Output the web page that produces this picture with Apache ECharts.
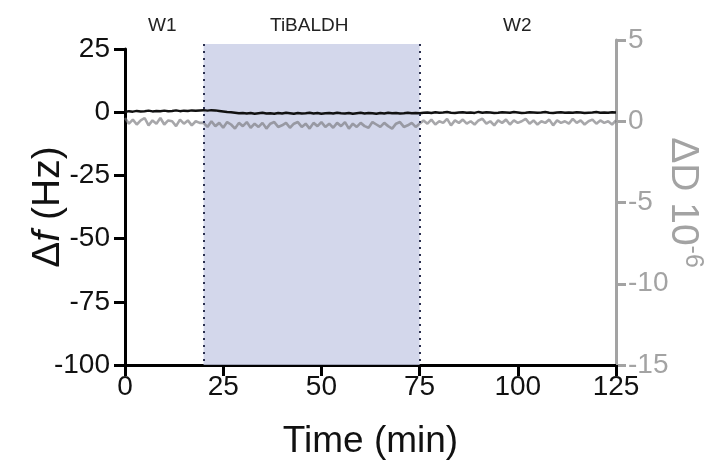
<!DOCTYPE html>
<html>
<head>
<meta charset="utf-8">
<script src="https://cdn.jsdelivr.net/npm/echarts@6/dist/echarts.min.js"></script>
<style>html,body{margin:0;padding:0;background:#fff;overflow:hidden}#c{width:723px;height:468px}</style>
</head>
<body>
<div id="c"></div>
<script>
// ---- data ----
var times = [0,1,2,3,4,5,6,7,8,9,10,11,12,13,14,15,16,17,18,19,
20,21,22,23,24,25,26,27,28,29,30,31,32,33,34,35,36,37,38,39,
40,41,42,43,44,45,46,47,48,49,50,51,52,53,54,55,56,57,58,59,
60,61,62,63,64,65,66,67,68,69,70,71,72,73,74,75,76,77,78,79,
80,81,82,83,84,85,86,87,88,89,90,91,92,93,94,95,96,97,98,99,
100,101,102,103,104,105,106,107,108,109,110,111,112,113,114,115,116,117,118,119,
120,121,122,123,124,125];
// frequency shift (Hz)
var deltaF = [0.1,0.4,0.2,0.5,0.3,0.4,0.6,0.3,0.5,0.4,0.6,0.4,0.5,0.7,0.4,0.6,0.5,0.7,0.6,0.7,
0.8,0.6,0.8,0.7,0.5,0.3,0.1,0.0,-0.2,-0.4,-0.3,-0.5,-0.3,-0.6,-0.4,-0.2,-0.5,-0.4,-0.6,-0.3,
-0.5,-0.2,-0.4,-0.6,-0.3,-0.5,-0.4,-0.2,-0.5,-0.3,-0.6,-0.4,-0.3,-0.5,-0.2,-0.4,-0.5,-0.3,-0.6,-0.4,
-0.2,-0.5,-0.3,-0.4,-0.6,-0.3,-0.5,-0.2,-0.4,-0.3,-0.5,-0.4,-0.2,-0.4,-0.3,-0.4,-0.2,-0.1,-0.3,0.0,
-0.2,-0.1,0.1,-0.2,-0.3,-0.1,0.0,-0.2,-0.1,-0.3,0.1,-0.2,0.0,-0.1,-0.3,-0.2,0.0,-0.1,-0.2,0.1,
-0.1,-0.3,-0.2,0.0,-0.1,-0.2,-0.1,0.1,-0.2,-0.3,-0.1,0.0,-0.2,-0.1,-0.2,0.0,-0.1,-0.3,-0.2,-0.1,
0.1,-0.2,-0.1,-0.2,0.0,-0.1];
// dissipation shift (1e-6)
var deltaD = [0.2,-0.15,0.1,-0.2,0.05,0.2,-0.25,0.05,-0.15,0.2,-0.2,0.05,0.0,-0.3,0.1,-0.15,0.05,-0.25,0.0,-0.1,
-0.1,-0.35,0.0,-0.3,-0.1,-0.4,-0.05,-0.2,-0.45,-0.1,-0.3,-0.05,-0.4,-0.15,-0.35,-0.1,-0.45,-0.15,-0.05,-0.35,
-0.25,-0.1,-0.4,-0.15,-0.05,-0.35,-0.15,-0.45,-0.1,-0.3,-0.05,-0.35,-0.15,-0.4,-0.1,-0.3,-0.05,-0.45,-0.15,-0.35,
-0.1,-0.3,-0.4,-0.05,-0.2,-0.35,-0.1,-0.3,-0.45,-0.15,-0.05,-0.35,-0.25,-0.1,-0.35,-0.15,0.05,-0.15,0.1,-0.2,
0.0,-0.1,0.15,-0.25,0.05,-0.1,0.1,-0.15,0.0,-0.2,0.05,0.15,-0.15,0.0,-0.25,0.05,-0.1,0.1,-0.2,0.05,
-0.1,0.0,0.15,-0.15,0.05,-0.2,0.0,-0.1,0.1,-0.25,0.05,-0.1,0.0,-0.15,0.15,-0.1,0.05,-0.2,0.0,0.1,
-0.15,0.05,-0.1,0.0,-0.2,0.05];
var phaseBounds = [20, 75];
var phaseLabels = ['W1', 'TiBALDH', 'W2'];
var xTicks = {min: 0, max: 125, interval: 25};
var fTicks = {min: -100, max: 25, interval: 25};
var dTicks = {min: -15, max: 5, interval: 5};

var F = '"Liberation Sans", Arial, Helvetica, sans-serif';
var GRAY = '#a3a3a3';

var fPairs = times.map(function (t, i) { return [t, deltaF[i]]; });
var dPairs = times.map(function (t, i) { return [t, deltaD[i]]; });

var chart = echarts.init(document.getElementById('c'), null, {renderer: 'canvas', width: 723, height: 468});
chart.setOption({
  animation: false,
  backgroundColor: '#fff',
  grid: [
    {left: 125, right: 107, top: 49, bottom: 103},
    {left: 125, right: 107, top: 40, bottom: 103}
  ],
  graphic: [
    {type: 'text', left: 163 - 15, top: 16, style: {text: phaseLabels[0], font: '19px ' + F, fill: '#222'}},
    {type: 'text', left: 311 - 41, top: 16, style: {text: phaseLabels[1], font: '19px ' + F, fill: '#222'}},
    {type: 'text', left: 518 - 15, top: 16, style: {text: phaseLabels[2], font: '19px ' + F, fill: '#222'}}
  ],
  xAxis: [
    {
      gridIndex: 0, type: 'value', min: xTicks.min, max: xTicks.max, interval: xTicks.interval,
      name: 'Time (min)', nameLocation: 'middle', nameGap: 58, nameMoveOverlap: false,
      nameTextStyle: {fontFamily: F, fontSize: 37, color: '#111'},
      axisLine: {onZero: false, lineStyle: {color: '#000', width: 3}},
      axisTick: {length: 11, lineStyle: {color: '#000', width: 3}},
      axisLabel: {fontFamily: F, fontSize: 28, color: '#111', margin: 8},
      splitLine: {show: false}
    },
    {
      gridIndex: 1, type: 'value', min: xTicks.min, max: xTicks.max, interval: xTicks.interval,
      show: false, splitLine: {show: false}
    }
  ],
  yAxis: [
    {
      gridIndex: 0, type: 'value', min: fTicks.min, max: fTicks.max, interval: fTicks.interval,
      position: 'left',
      name: '{d|Δ}{i|f}{d| (Hz)}', nameLocation: 'middle', nameGap: 57, nameRotate: 90, nameMoveOverlap: false,
      nameTextStyle: {rich: {
        d: {fontFamily: F, fontSize: 39, color: '#111'},
        i: {fontFamily: F, fontSize: 39, color: '#111', fontStyle: 'italic'}
      }},
      axisLine: {show: true, onZero: false, lineStyle: {color: '#000', width: 3}},
      axisTick: {show: true, length: 11, lineStyle: {color: '#000', width: 3}},
      axisLabel: {fontFamily: F, fontSize: 28, color: '#111', margin: 15},
      splitLine: {show: false}
    },
    {
      gridIndex: 1, type: 'value', min: dTicks.min, max: dTicks.max, interval: dTicks.interval,
      position: 'right',
      name: '{d|ΔD 10}{s|-6}', nameLocation: 'middle', nameGap: 45, nameRotate: -90, nameMoveOverlap: false,
      nameTextStyle: {rich: {
        d: {fontFamily: F, fontSize: 39, color: GRAY},
        s: {fontFamily: F, fontSize: 25, color: GRAY, verticalAlign: 'top', padding: [0, 0, 19, 0]}
      }},
      axisLine: {show: true, onZero: false, lineStyle: {color: GRAY, width: 3}},
      axisTick: {show: true, length: 10, lineStyle: {color: GRAY, width: 3}},
      axisLabel: {fontFamily: F, fontSize: 28, color: GRAY, margin: 12},
      splitLine: {show: false}
    }
  ],
  series: [
    {
      name: 'ΔD', type: 'line', xAxisIndex: 1, yAxisIndex: 1, data: dPairs,
      showSymbol: false, z: 3,
      lineStyle: {color: 'rgba(120,120,125,0.65)', width: 2.6},
      markArea: {
        silent: true,
        itemStyle: {color: 'rgba(200,205,230,0.8)'},
        data: [[{coord: [phaseBounds[0], 4.75]}, {coord: [phaseBounds[1], dTicks.min]}]]
      },
      markLine: {
        silent: true, symbol: 'none', label: {show: false},
        lineStyle: {color: '#2b3050', type: [2, 5], width: 2},
        data: [
          [{coord: [phaseBounds[0], 4.75]}, {coord: [phaseBounds[0], dTicks.min]}],
          [{coord: [phaseBounds[1], 4.75]}, {coord: [phaseBounds[1], dTicks.min]}]
        ]
      }
    },
    {
      name: 'Δf', type: 'line', xAxisIndex: 0, yAxisIndex: 0, data: fPairs,
      showSymbol: false, z: 4,
      lineStyle: {color: '#111', width: 2.4}
    }
  ]
});
</script>
</body>
</html>
